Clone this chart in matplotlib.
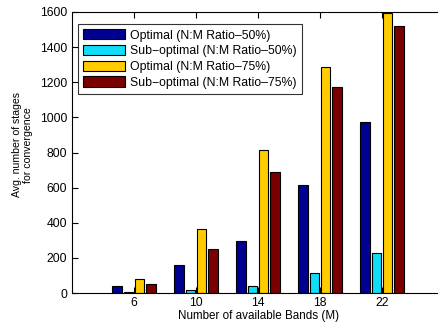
import matplotlib
matplotlib.use('Agg')
import matplotlib.pyplot as plt
import numpy as np
from matplotlib import rcParams

#---- figure parameters ----#
params = {'font.family': ['Liberation Sans', 'DejaVu Sans'],
          'font.size': 8.8,
          'axes.linewidth': 0.8,
          'xtick.direction': 'in',
          'ytick.direction': 'in',
          'xtick.top': True,
          'ytick.right': True,
          'xtick.major.size': 4,
          'ytick.major.size': 4,
          }
rcParams.update(params)

#---- data ----#
bands = [6, 10, 14, 18, 22]
opt_50 = [38, 161, 298, 615, 974]
sub_50 = [7, 19, 42, 112, 226]
opt_75 = [80, 363, 814, 1289, 1593]
sub_75 = [51, 250, 689, 1175, 1520]
labels = ['Optimal (N:M Ratio\u201350%)', 'Sub\u2212optimal (N:M Ratio\u201350%)',
          'Optimal (N:M Ratio\u201375%)', 'Sub\u2212optimal (N:M Ratio\u201375%)']
series = [opt_50, sub_50, opt_75, sub_75]
colours = ['#000090', '#12DDF8', '#FFCC00', '#7A0000']

#---- figure ----#
fig = plt.figure(figsize=(4.38, 3.22), dpi=100)
ax1 = fig.add_axes([72/438, 1 - 293/322, 372/438, 281/322])

x = np.array(bands, dtype=float)
step = 0.727   # MATLAB grouped-bar spacing
width = 0.6
for i, (vals, lab, c) in enumerate(zip(series, labels, colours)):
    ax1.bar(x + (i - 1.5)*step, vals, width=width, color=c, edgecolor='black',
            linewidth=0.8, label=lab)

ax1.set_xlim([2, 26])
ax1.set_ylim([0, 1600])
ax1.set_xticks(bands)
ax1.set_yticks(np.arange(0, 1601, 200))
ax1.tick_params(axis='x', pad=3)
ax1.set_xlabel('Number of available Bands (M)', labelpad=0.5, fontsize=8.4)
ax1.set_ylabel('Avg. number of stages\nfor convergence', fontsize=7.6, linespacing=1.15)
ax1.yaxis.set_label_coords(-0.105, 0.527)

legend = ax1.legend(loc='upper left', bbox_to_anchor=(0.016, 0.958), handlelength=3.4,
                    handleheight=0.9, labelspacing=0.28, handletextpad=0.4,
                    borderpad=0.45, borderaxespad=0.0, fancybox=False)
legend.get_frame().set_edgecolor('black')
legend.get_frame().set_linewidth(0.8)

plt.savefig('out.png', dpi=100)
